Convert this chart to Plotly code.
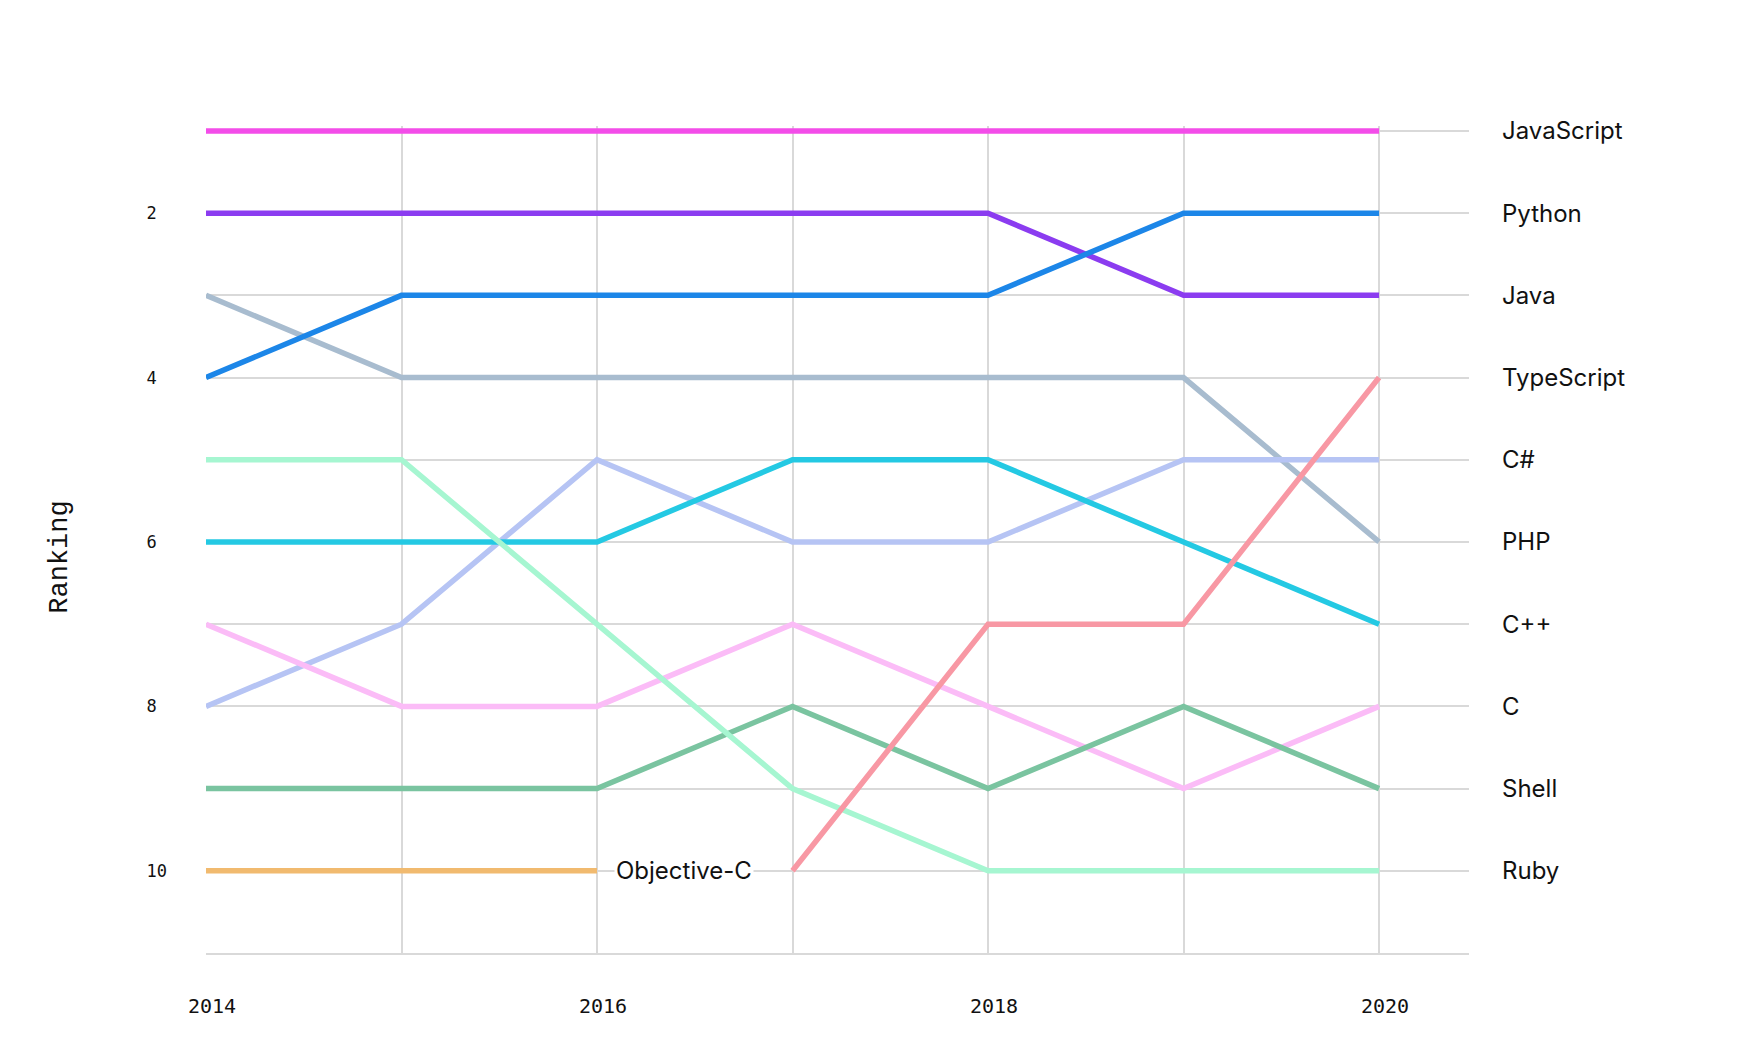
import plotly.graph_objects as go

# =============================================================================
# DATA  (rank per year, None = not in the top 10)
# =============================================================================
years = [2014, 2015, 2016, 2017, 2018, 2019, 2020]

languages = ["JavaScript", "Java", "PHP", "C#", "C++", "C", "Shell",
             "Objective-C", "Ruby", "Python", "TypeScript"]

rank_javascript = [1, 1, 1, 1, 1, 1, 1]
rank_java = [2, 2, 2, 2, 2, 3, 3]
rank_php = [3, 4, 4, 4, 4, 4, 6]
rank_csharp = [8, 7, 5, 6, 6, 5, 5]
rank_cpp = [6, 6, 6, 5, 5, 6, 7]
rank_c = [7, 8, 8, 7, 8, 9, 8]
rank_shell = [9, 9, 9, 8, 9, 8, 9]
rank_objc = [10, 10, 10, None, None, None, None]
rank_ruby = [5, 5, 7, 9, 10, 10, 10]
rank_python = [4, 3, 3, 3, 3, 2, 2]
rank_typescript = [None, None, None, 10, 7, 7, 4]

colors = ["#f34de9", "#8b3cf0", "#a8bccf", "#b6c4f4", "#24c9e3", "#fbbcf7",
          "#7ac4a0", "#f1ba6f", "#a6f6d1", "#1c86e8", "#f898a4"]

rank_ticks = [1, 2, 3, 4, 5, 6, 7, 8, 9, 10]
rank_tick_text = ["", "2\u00a0", "", "4\u00a0", "", "6\u00a0", "", "8\u00a0", "", "10"]
year_tick_text = ["2014", "", "2016", "", "2018", "", "2020"]

series = [rank_javascript, rank_java, rank_php, rank_csharp, rank_cpp, rank_c,
          rank_shell, rank_objc, rank_ruby, rank_python, rank_typescript]

# =============================================================================
# PLOT
# =============================================================================
GRID = "#d9d9d9"
MONO = "Liberation Mono"
TICK = "DejaVu Sans Mono"
SANS = "Inter"

fig = go.Figure()

for name, ranks, color in zip(languages, series, colors):
    fig.add_trace(go.Scatter(
        x=years, y=ranks, name=name, mode="lines",
        line=dict(color=color, width=5.5), connectgaps=False,
        hovertemplate=f"<b>{name}</b><br>%{{x}}: #%{{y}}<extra></extra>"
    ))

# labels at the last point of each series
for name, ranks in zip(languages, series):
    pts = [(x, r) for x, r in zip(years, ranks) if r is not None]
    last_x, last_r = pts[-1]
    if last_x == years[-1]:
        fig.add_annotation(x=1, xref="paper", y=last_r, yref="y", text=name,
                           xanchor="left", xshift=31, showarrow=False,
                           font=dict(family=SANS, size=24, color="#111"))
    else:
        fig.add_annotation(x=last_x, y=last_r, text=name, xanchor="left",
                           xshift=17, showarrow=False, bgcolor="white",
                           font=dict(family=SANS, size=24, color="#111"))

# axis title, placed by hand a bit below the middle
fig.add_annotation(x=0, xref="paper", y=0.478, yref="paper", text="Ranking",
                   textangle=-90, xanchor="center", yanchor="middle", xshift=-146,
                   showarrow=False, font=dict(family=MONO, size=27, color="#111"))

# page body adds an 8px offset, so the figure is 16px smaller than the window
fig.update_layout(
    width=1744, height=1024,
    paper_bgcolor="white", plot_bgcolor="white",
    margin=dict(l=198, r=283, t=118, b=79),
    showlegend=False,
    font=dict(family=MONO, color="#111"),
)

fig.update_xaxes(
    range=[2014, 2020.46], tickvals=years, ticktext=year_tick_text,
    showgrid=True, gridcolor=GRID, gridwidth=1.5,
    showline=True, linecolor=GRID, linewidth=1.5,
    zeroline=False, ticks="",
    tickfont=dict(family=TICK, size=20, color="#111"),
    ticklabelstandoff=34, ticklabelshift=6,
)
fig.update_yaxes(
    range=[11, 0.94], tickvals=rank_ticks, ticktext=rank_tick_text,
    showgrid=True, gridcolor=GRID, gridwidth=1.5, zeroline=False,
    showline=False, ticks="",
    tickfont=dict(family=TICK, size=17, color="#111"),
    ticklabelstandoff=38, automargin=False,
)

fig.write_html("out.html")
